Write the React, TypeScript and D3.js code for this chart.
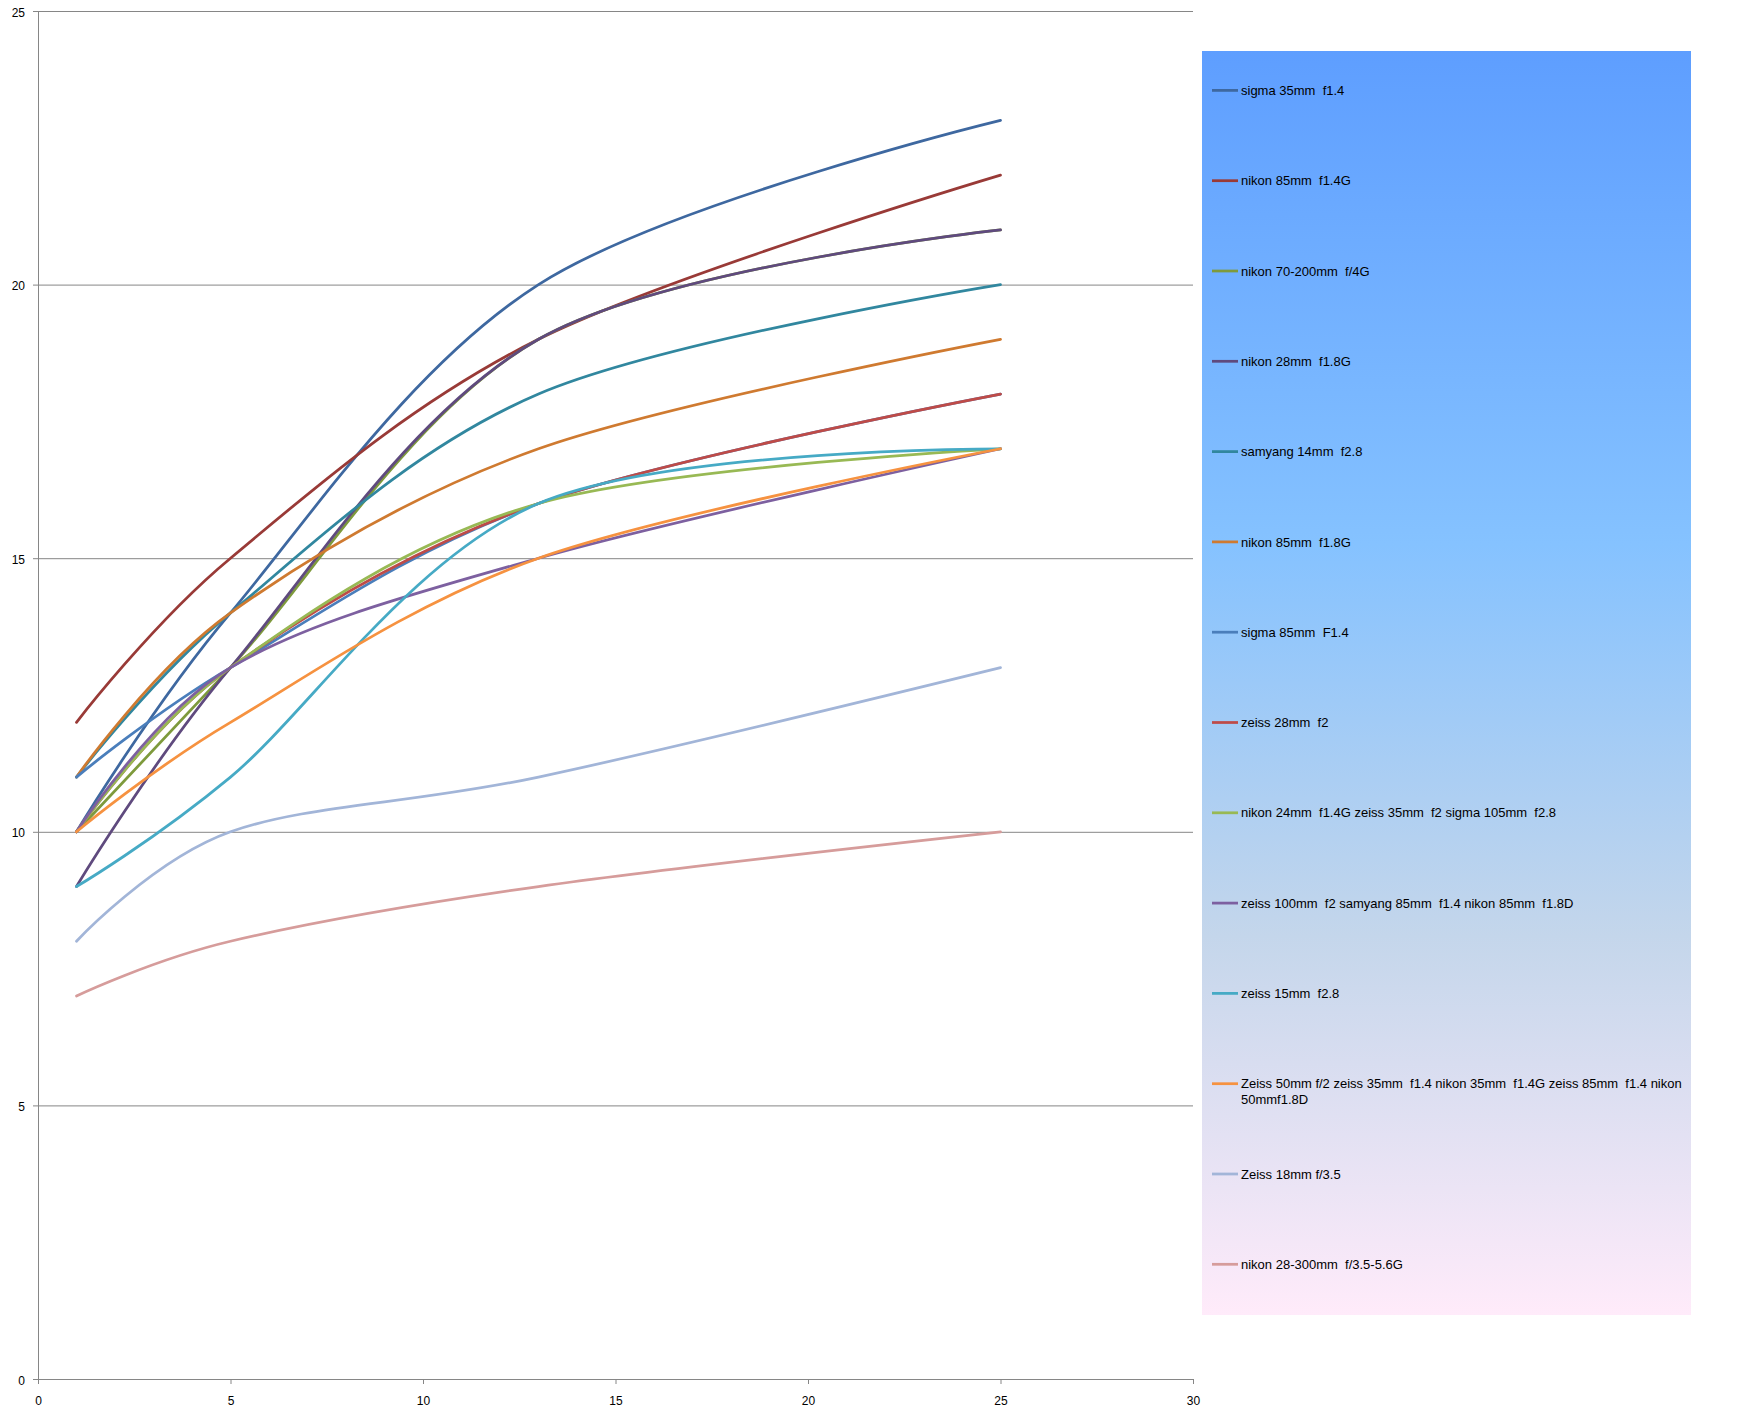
import React, { useEffect, useRef } from 'react';
import * as d3 from 'd3';

// x positions shared by every series
const xValues = [1, 5, 13, 25];

const seriesNames = [
  'sigma 35mm  f1.4',
  'nikon 85mm  f1.4G',
  'nikon 70-200mm  f/4G',
  'nikon 28mm  f1.8G',
  'samyang 14mm  f2.8',
  'nikon 85mm  f1.8G',
  'sigma 85mm  F1.4',
  'zeiss 28mm  f2',
  'nikon 24mm  f1.4G zeiss 35mm  f2 sigma 105mm  f2.8',
  'zeiss 100mm  f2 samyang 85mm  f1.4 nikon 85mm  f1.8D',
  'zeiss 15mm  f2.8',
  'Zeiss 50mm f/2 zeiss 35mm  f1.4 nikon 35mm  f1.4G zeiss 85mm  f1.4 nikon 50mmf1.8D',
  'Zeiss 18mm f/3.5',
  'nikon 28-300mm  f/3.5-5.6G',
];

const seriesColors = [
  '#3e68a0', '#993a37', '#7e9a3c', '#5f4a7e', '#31879f', '#cf7a30',
  '#4a7ebb', '#be4b48', '#98b954', '#7d60a0', '#46aac5', '#f69240',
  '#a2b5d8', '#d69c9b',
];

const seriesValues = [
  [10, 14, 20, 23],
  [12, 15, 19, 22],
  [10, 13, 19, 21],
  [9, 13, 19, 21],
  [11, 14, 18, 20],
  [11, 14, 17, 19],
  [11, 13, 16, 18],
  [10, 13, 16, 18],
  [10, 13, 16, 17],
  [10, 13, 15, 17],
  [9, 11, 16, 17],
  [10, 12, 15, 17],
  [8, 10, 11, 13],
  [7, 8, 9, 10],
];

const xTicks = [0, 5, 10, 15, 20, 25, 30];
const yTicks = [0, 5, 10, 15, 20, 25];

const WIDTH = 1750;
const HEIGHT = 1427;
const FONT = "'Liberation Sans', Arial, sans-serif";
const AXIS_COLOR = '#868686';

// legend box (Excel "Daybreak" gradient fill)
const LEGEND = { x: 1202, y: 51, w: 489, h: 1264 };

const App: React.FC = () => {
  const svgRef = useRef<SVGSVGElement>(null);

  useEffect(() => {
    const svg = d3.select(svgRef.current);
    svg.selectAll('*').remove();

    const x = d3.scaleLinear().domain([0, 30]).range([38, 1193]);
    const y = d3.scaleLinear().domain([0, 25]).range([1379, 11]);

    // horizontal gridlines
    svg.append('g')
      .selectAll('line')
      .data(yTicks.filter(t => t > 0))
      .join('line')
      .attr('x1', x(0))
      .attr('x2', x(30))
      .attr('y1', d => y(d) + 0.5)
      .attr('y2', d => y(d) + 0.5)
      .attr('stroke', AXIS_COLOR)
      .attr('stroke-width', 1);

    // axes
    const yAxis = svg.append('g')
      .attr('transform', `translate(${x(0)},0)`)
      .call(d3.axisLeft(y).tickValues(yTicks).tickSizeInner(5).tickSizeOuter(0).tickPadding(8));
    const xAxis = svg.append('g')
      .attr('transform', `translate(0,${y(0)})`)
      .call(d3.axisBottom(x).tickValues(xTicks).tickSizeInner(5).tickSizeOuter(0).tickPadding(12));

    [yAxis, xAxis].forEach(ax => {
      ax.attr('font-family', FONT).attr('font-size', 12);
      ax.select('.domain').attr('stroke', AXIS_COLOR);
      ax.selectAll('.tick line').attr('stroke', AXIS_COLOR);
      ax.selectAll('.tick text').attr('fill', '#000');
    });
    yAxis.selectAll('.tick text').attr('dy', '0.42em');

    // series curves (Excel-style smoothed lines)
    const line = d3.line<number>()
      .x((_, i) => x(xValues[i]))
      .y(d => y(d))
      .curve(d3.curveCatmullRom.alpha(0));

    svg.append('g')
      .selectAll('path')
      .data(seriesValues)
      .join('path')
      .attr('d', d => line(d) || '')
      .attr('fill', 'none')
      .attr('stroke', (_, i) => seriesColors[i])
      .attr('stroke-width', 2.75)
      .attr('stroke-linejoin', 'round')
      .attr('stroke-linecap', 'round');

    // legend background gradient
    const defs = svg.append('defs');
    const grad = defs.append('linearGradient')
      .attr('id', 'legendGrad')
      .attr('x1', 0).attr('y1', 0).attr('x2', 0).attr('y2', 1);
    [
      [0, '#5e9eff'],
      [0.39, '#85c2ff'],
      [0.7, '#c4d6eb'],
      [1, '#ffebfa'],
    ].forEach(([o, c]) => grad.append('stop').attr('offset', o as number).attr('stop-color', c as string));

    const legend = svg.append('g');
    legend.append('rect')
      .attr('x', LEGEND.x)
      .attr('y', LEGEND.y)
      .attr('width', LEGEND.w)
      .attr('height', LEGEND.h)
      .attr('fill', 'url(#legendGrad)');

    // wrap long labels using canvas text metrics
    const ctx = document.createElement('canvas').getContext('2d')!;
    ctx.font = `13px ${FONT}`;
    const maxWidth = 448;
    const wrap = (label: string) => {
      const words = label.split(' ');
      const lines: string[] = [];
      let cur = '';
      words.forEach((w, i) => {
        const test = i === 0 ? w : `${cur} ${w}`;
        if (cur && w && ctx.measureText(test).width > maxWidth) {
          lines.push(cur);
          cur = w;
        } else {
          cur = test;
        }
      });
      lines.push(cur);
      return lines;
    };

    const firstY = 90.4;
    const step = 90.3;
    seriesNames.forEach((name, i) => {
      const lines = wrap(name);
      const cy = firstY + i * step;
      legend.append('line')
        .attr('x1', 1212)
        .attr('x2', 1238)
        .attr('y1', cy)
        .attr('y2', cy)
        .attr('stroke', seriesColors[i])
        .attr('stroke-width', 2.75);
      const text = legend.append('text')
        .attr('x', 1241)
        .attr('y', cy)
        .attr('font-family', FONT)
        .attr('font-size', 13)
        .attr('fill', '#000')
        .style('white-space', 'pre');
      lines.forEach((ln, j) => {
        text.append('tspan')
          .attr('x', 1241)
          .attr('y', cy + j * 15.8)
          .attr('dy', '0.36em')
          .text(ln);
      });
    });
  }, []);

  return (
    <div>
      <style>{'body{margin:0;}'}</style>
      <svg ref={svgRef} width={WIDTH} height={HEIGHT} style={{ display: 'block', background: '#fff' }} />
    </div>
  );
};

export default App;
